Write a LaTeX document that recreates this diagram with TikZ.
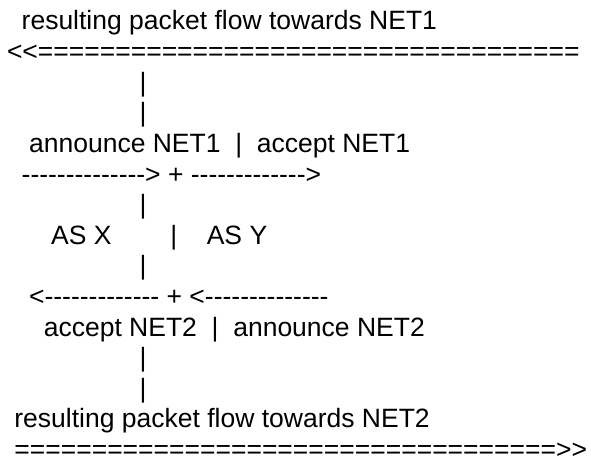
\documentclass[tikz,border=0pt]{standalone}
\usepackage{fontspec}
\setmainfont{Liberation Sans}[Ligatures=TeXOff]
\ExplSyntaxOn
\cs_new:Npn \myrep #1#2 { \prg_replicate:nn {#1} {#2} }
\ExplSyntaxOff
\tikzset{
  asc/.style={anchor=base west, inner sep=0pt, outer sep=0pt, text=black,
    font=\fontsize{26.5pt}{30.6pt}\selectfont},
}
\begin{document}
\begin{tikzpicture}[x=1pt,y=1pt]
\fill[white] (0,0) rectangle (591,-457);
\useasboundingbox (0,0) rectangle (591,-457);
\node[asc] (l1)  at (21.7,-30.0)  {resulting packet flow towards NET1};
\node[asc] (l2)  at (7.0,-60.6)   {<<\myrep{35}{=}};
\node[asc] (l3)  at (139.5,-91.2) {|};
\node[asc] (l4)  at (139.5,-121.8){|};
\node[asc] (l5)  at (29.1,-152.4) {announce NET1~~|~~accept NET1};
\node[asc] (l6)  at (21.7,-183.0) {\myrep{14}{-}>~+~\myrep{13}{-}>};
\node[asc] (l7)  at (139.5,-213.6){|};
\node[asc] (l8)  at (51.2,-244.2) {AS~X~~~~~~~~|~~~~AS~Y};
\node[asc] (l9)  at (139.5,-274.8){|};
\node[asc] (l10) at (29.1,-305.4) {<\myrep{13}{-}~+~<\myrep{14}{-}};
\node[asc] (l11) at (43.8,-336.0) {accept NET2~~|~~announce NET2};
\node[asc] (l12) at (139.5,-366.6){|};
\node[asc] (l13) at (139.5,-397.2){|};
\node[asc] (l14) at (14.4,-427.8) {resulting packet flow towards NET2};
\node[asc] (l15) at (14.4,-458.4) {\myrep{35}{=}>>};
\end{tikzpicture}
\end{document}
